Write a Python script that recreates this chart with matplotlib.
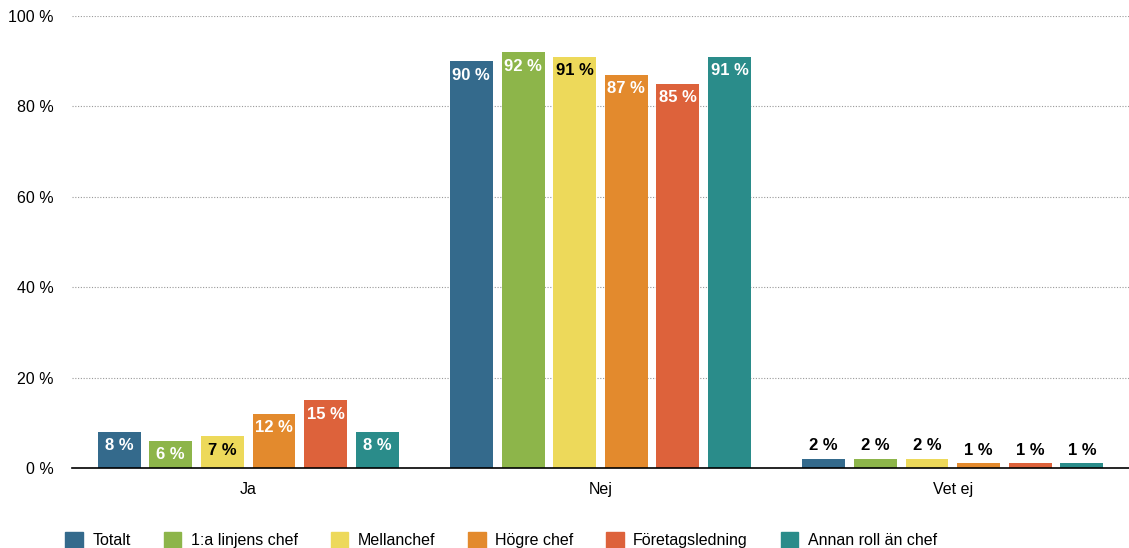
import numpy as np
import matplotlib.pyplot as plt
from matplotlib.patches import Patch

plt.rcParams['font.family'] = ['Liberation Sans', 'DejaVu Sans']

# Data
categories = ['Ja', 'Nej', 'Vet ej']
groups = ['Totalt', '1:a linjens chef', 'Mellanchef', 'Högre chef',
          'Företagsledning', 'Annan roll än chef']
ja = [8, 6, 7, 12, 15, 8]
nej = [90, 92, 91, 87, 85, 91]
vet_ej = [2, 2, 2, 1, 1, 1]
colors = ['#346A8C', '#8DB54A', '#EDD95A', '#E38A2D', '#DD623B', '#2A8C8A']
label_colors = ['white', 'white', 'black', 'white', 'white', 'white']

values = np.array([ja, nej, vet_ej])  # rows: categories

fig = plt.figure(figsize=(11.29, 5.48), dpi=100)
ax = fig.add_axes([72 / 1129, 1 - 468 / 548, 1 - 72 / 1129, (468 - 16) / 548])

x = np.arange(len(categories))
step = 0.1466
width = 0.122
for i, g in enumerate(groups):
    pos = x + (i - 2.5) * step
    vals = values[:, i]
    ax.bar(pos, vals, width, color=colors[i], zorder=3)
    for p, v in zip(pos, vals):
        if v >= 5:
            ax.annotate(f'{v} %', (p, v), xytext=(0, -14), textcoords='offset pixels',
                        ha='center', va='center', fontsize=12, fontweight='bold',
                        color=label_colors[i], zorder=4)
        else:
            ax.annotate(f'{v} %', (p, v), xytext=(0, 13), textcoords='offset pixels',
                        ha='center', va='center', fontsize=12, fontweight='bold',
                        color='black', zorder=4)

ax.set_xlim(-0.5, 2.5)
ax.set_ylim(0, 100)
ax.set_yticks(range(0, 101, 20))
ax.set_yticklabels([f'{t} %' for t in range(0, 101, 20)], fontsize=11.5)
ax.set_xticks(x)
ax.set_xticklabels(categories, fontsize=11.5)
ax.tick_params(axis='y', length=0, pad=13)
ax.tick_params(axis='x', length=0, pad=10)
ax.yaxis.grid(True, linestyle=(0, (1, 1.5)), color='#999999', linewidth=0.8, zorder=0)
for s in ['top', 'right', 'left']:
    ax.spines[s].set_visible(False)
ax.spines['bottom'].set_color('black')
ax.spines['bottom'].set_linewidth(1.2)
ax.spines['bottom'].set_zorder(5)

handles = [Patch(color=c, label=g) for c, g in zip(colors, groups)]
fig.legend(handles=handles, loc='lower left', bbox_to_anchor=(51 / 1129, -0.027),
           ncol=6, frameon=False, fontsize=11.5, handlelength=1.1, handleheight=1.1,
           handletextpad=0.6, columnspacing=2.05)

fig.savefig('out.png', dpi=100)
